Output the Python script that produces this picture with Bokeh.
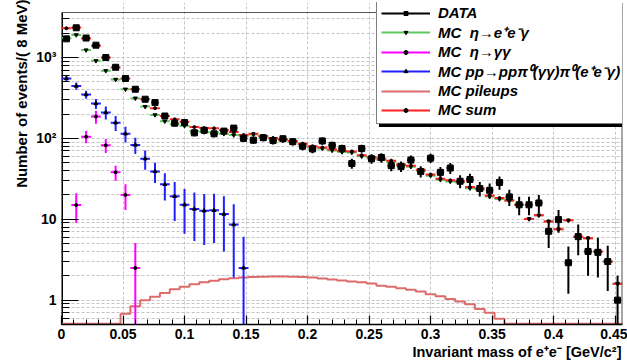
import numpy as np
from bokeh.plotting import figure
from bokeh.models import (FixedTicker, SingleIntervalTicker, NumeralTickFormatter,
                          Legend, LegendItem, Title, Range1d, Span)
from bokeh.embed import file_html
from bokeh.resources import INLINE

# ---------------- data ----------------
bin_width = 0.008
n_bins = 57
bin_low = 0.0

data_counts = [1700, 2330, 1740, 1420, 1000, 757, 550, 405, 305, 277,
               189, 154, 157, 117, 126, 114, 123, 134, 100, 95,
               102, 94, 99, 91, 80, 74, 93, 82, 75, 49,
               75, 56, 58, 46, 45, 54, 39, 57, 38, 43,
               29.5, 31, 24, 22.8, 28.5, 18.9, 15.1, 15.1, 15.9, 7.1,
               9.9, 2.9, 6.1, 4.0, 3.9, 3.0, 1.0]
data_errors = [41, 48, 42, 38, 32, 27.5, 23.5, 20, 17.5, 16.6,
               13.7, 12.4, 12.5, 10.8, 11.2, 10.7, 11.1, 11.6, 10, 9.7,
               10.1, 9.7, 9.9, 9.5, 8.9, 8.6, 9.6, 9.1, 8.7, 7.0,
               8.7, 7.5, 7.6, 6.8, 6.7, 7.3, 6.2, 7.5, 6.2, 6.6,
               5.4, 5.6, 4.9, 4.8, 5.3, 4.3, 3.9, 3.9, 4.0, 2.7,
               3.1, 1.7, 2.5, 2.0, 2.0, 1.7, 1.0]

mc_sum = [2300, 2350, 1720, 1400, 1000, 750, 550, 405, 305, 236,
          189, 172, 160, 138, 134, 133, 127, 120, 110, 114,
          107, 101, 97, 93, 86, 80, 77, 73, 70, 69,
          62, 59, 56, 53, 47.6, 46, 41, 35.7, 31.8, 30.3,
          29.5, 25, 24, 19.7, 18.3, 17, 15.1, 10.1, 11.2, 9.4,
          7.55, 9.7, 6.1, 5.84, 4.0, 3.0, 1.6]

mc_eeg = [1740, 1900, 1236, 910, 685, 535, 405, 314, 247, 195,
          163, 150, 143, 123, 120, 118, 114, 110, 106, 112,
          105, 99, 95, 91, 84, 78, 75, 71, 68, 67,
          60, 57, 54, 51.5, 46.2, 44.7, 39.8, 34.6, 30.8, 29.3,
          28.6, 24.2, 23.3, 19.1, 17.8, 17, 15.1, 10.1, 11.2, 9.4,
          7.55, 9.7, 6.1, 5.84, 4.0, 3.0, 1.6]

# pp -> pp pi0(gg) pi0(e+e-g): bins 0..18
mc_pi0 = [550, 444, 348, 269, 209, 156, 114, 83, 56, 39,
          27, 19.2, 15.1, 13.4, 12.7, 12.9, 11.6, 8.6, 2.5]
mc_pi0_err = [50, 45, 40, 38, 38, 33, 25, 19, 15, 11,
              10, 9.7, 8.5, 8, 7.9, 7.8, 7.6, 6.7, 3.6]

# eta -> gg: bins 1..7
mc_gg_first_bin = 1
mc_gg = [15, 105, 186, 82, 38, 20, 2.5]
mc_gg_err = [6, 18, 34, 16, 8, 7, 2.6]

mc_pileup = [0, 0, 0, 0, 0, 0, 0.68, 0.84, 1.0, 1.10,
             1.23, 1.36, 1.46, 1.57, 1.66, 1.74, 1.81, 1.86, 1.91, 1.93,
             1.95, 1.96, 1.96, 1.95, 1.93, 1.90, 1.85, 1.80, 1.75, 1.70,
             1.66, 1.61, 1.51, 1.46, 1.40, 1.34, 1.28, 1.18, 1.12, 1.03,
             0.96, 0.89, 0.78, 0.70, 0.59, 0, 0, 0, 0, 0,
             0, 0, 0, 0, 0, 0, 0]

y_ticks = [1, 10, 100, 1000]
y_tick_labels = {1: "1", 10: "10", 100: "10\u00b2", 1000: "10\u00b3"}

legend_labels = ["DATA", "MC  \u03b7\u2192e\u207ae\u207b\u03b3", "MC  \u03b7\u2192\u03b3\u03b3",
                 "MC pp\u2192pp\u03c0\u2070(\u03b3\u03b3)\u03c0\u2070(e\u207ae\u207b\u03b3)",
                 "MC pileups", "MC sum"]
x_title = "Invariant mass of e\u207ae\u207b [GeV/c\u00b2]"
y_title = "Number of events/( 8 MeV)"

# ---------------- figure ----------------
Y_MIN, Y_MAX = 0.5, 3600     # histogram frame range
Y_TOP = 4785                 # canvas extends a little above the frame so the legend fits
FONT = "Liberation Sans"

edges = bin_low + bin_width * np.arange(n_bins + 1)
centers = edges[:-1] + bin_width / 2

p = figure(width=627, height=363, y_axis_type="log",
           x_range=Range1d(0, edges[-1]), y_range=Range1d(Y_MIN, Y_TOP),
           output_backend="svg", toolbar_location=None,
           min_border_left=61, min_border_right=5, min_border_top=2, min_border_bottom=39)
p.title.visible = False
p.background_fill_color = "white"
p.border_fill_color = "white"
p.outline_line_color = None

# axes
p.xaxis.ticker = SingleIntervalTicker(interval=0.05, num_minor_ticks=5)
p.xaxis.formatter = NumeralTickFormatter(format="0.[00]")
minor_y = []
for dec in [0.1, 1, 10, 100, 1000]:
    for m in range(2, 10):
        v = m * dec
        if Y_MIN < v < Y_MAX:
            minor_y.append(v)
p.yaxis.ticker = FixedTicker(ticks=y_ticks, minor_ticks=minor_y)
p.yaxis.major_label_overrides = y_tick_labels

for ax in (p.xaxis, p.yaxis):
    ax.axis_line_color = "black"
    ax.axis_line_width = 1.5
    ax.major_tick_line_color = "black"
    ax.minor_tick_line_color = "black"
    ax.major_tick_line_width = 1.2
    ax.minor_tick_line_width = 1
    ax.major_tick_out = 0
    ax.minor_tick_out = 0
    ax.major_label_text_font = FONT
    ax.major_label_text_font_style = "bold"
    ax.major_label_text_font_size = "14px"
    ax.major_label_text_color = "black"
p.yaxis.axis_line_color = None
p.xaxis.major_tick_in = 9
p.xaxis.minor_tick_in = 5
p.yaxis.major_tick_in = 17
p.yaxis.minor_tick_in = 8
p.xaxis.major_label_standoff = 4
p.yaxis.major_label_standoff = 5

p.xgrid.ticker = SingleIntervalTicker(interval=0.05)
for g in (p.xgrid, p.ygrid):
    g.grid_line_color = "#c4c4c4"
    g.grid_line_dash = "3 2"
    g.grid_line_width = 1
p.ygrid.minor_grid_line_color = "#c4c4c4"
p.ygrid.minor_grid_line_dash = "3 2"
p.ygrid.minor_grid_line_width = 1

# frame lines: left axis line (only up to the histogram top), top and right borders
p.segment(x0=[0], y0=[Y_MIN], x1=[0], y1=[Y_MAX], line_color="black", line_width=3)
p.add_layout(Span(location=Y_MAX, dimension="width", line_color="#555555", line_width=1))
p.add_layout(Span(location=edges[-1], dimension="height", line_color="#555555", line_width=2))

# axis titles as side titles
p.add_layout(Title(text=y_title, align="right", offset=-3, standoff=8,
                   text_font=FONT, text_font_style="bold", text_font_size="15px",
                   text_color="black"), "left")
p.add_layout(Title(text=x_title, align="right", offset=1, standoff=0,
                   text_font=FONT, text_font_style="bold", text_font_size="14.5px",
                   text_color="black"), "below")


def clip_low(v):
    return np.maximum(v, 0.3)


# pileup step histogram (zero bins drawn on the bottom edge)
pile_y = np.maximum(np.append(mc_pileup, mc_pileup[-1]), Y_MIN * 1.02)
r_pile = p.step(x=edges, y=pile_y, mode="after", line_color="#dd6b6b", line_width=2)

# blue MC pi0 pi0
xb = centers[:len(mc_pi0)]
yb = np.array(mc_pi0)
eb = np.array(mc_pi0_err)
r_b_h = p.segment(x0=xb - bin_width / 2, y0=yb, x1=xb + bin_width / 2, y1=yb,
                  line_color="#2020ff", line_width=2)
p.segment(x0=xb, y0=clip_low(yb - eb), x1=xb, y1=yb + eb, line_color="#2020ff", line_width=2)
r_b_m = p.scatter(xb, yb, marker="triangle", size=4, color="black")

# magenta MC eta -> gg
xm = centers[mc_gg_first_bin:mc_gg_first_bin + len(mc_gg)]
ym = np.array(mc_gg)
em = np.array(mc_gg_err)
r_m_h = p.segment(x0=xm - bin_width / 2, y0=ym, x1=xm + bin_width / 2, y1=ym,
                  line_color="#ff00ff", line_width=2)
p.segment(x0=xm, y0=clip_low(ym - em), x1=xm, y1=ym + em, line_color="#ff00ff", line_width=2)
r_m_m = p.scatter(xm, ym, marker="circle", size=3, color="black")

# green MC eta -> e+e-g
yg = np.array(mc_eeg)
r_g_h = p.segment(x0=centers - bin_width / 2, y0=yg, x1=centers + bin_width / 2, y1=yg,
                  line_color="#5cc85c", line_width=2)
r_g_m = p.scatter(centers, yg, marker="inverted_triangle", size=4, color="black")

# red MC sum
yr = np.array(mc_sum)
r_r_h = p.segment(x0=centers - bin_width / 2, y0=yr, x1=centers + bin_width / 2, y1=yr,
                  line_color="#ff2020", line_width=2)
r_r_m = p.scatter(centers, yr, marker="circle", size=3, color="black")

# data
yd = np.array(data_counts)
ed = np.array(data_errors)
r_d_h = p.segment(x0=centers - bin_width * 0.38, y0=yd, x1=centers + bin_width * 0.38, y1=yd,
                  line_color="black", line_width=2)
p.segment(x0=centers, y0=clip_low(yd - ed), x1=centers, y1=yd + ed, line_color="black", line_width=2)
r_d_m = p.scatter(centers, yd, marker="square", size=6, color="black")

renderer_sets = [[r_d_h, r_d_m], [r_g_h, r_g_m], [r_m_h, r_m_m],
                 [r_b_h, r_b_m], [r_pile], [r_r_h, r_r_m]]

legend_style = dict(padding=4, margin=0, spacing=0,
                    glyph_width=49, glyph_height=10, label_height=19, label_standoff=8,
                    label_width=177,
                    label_text_font=FONT, label_text_font_style="bold italic",
                    label_text_font_size="15px")

# shadow box (same size, no text), drawn first and offset right/down
shadow = Legend(items=[LegendItem(label=" ", renderers=rs) for rs in renderer_sets],
                location=(318, 197), label_text_color="black",
                background_fill_color="black", background_fill_alpha=1,
                border_line_color="black", border_line_width=1, **legend_style)
p.add_layout(shadow, "center")
legend = Legend(items=[LegendItem(label=lab, renderers=rs)
                       for lab, rs in zip(legend_labels, renderer_sets)],
                location=(315, 200), label_text_color="black",
                background_fill_color="white", background_fill_alpha=1,
                border_line_color="black", border_line_width=1.2, **legend_style)
p.add_layout(legend, "center")

open("out.html", "w").write(file_html(p, INLINE))
